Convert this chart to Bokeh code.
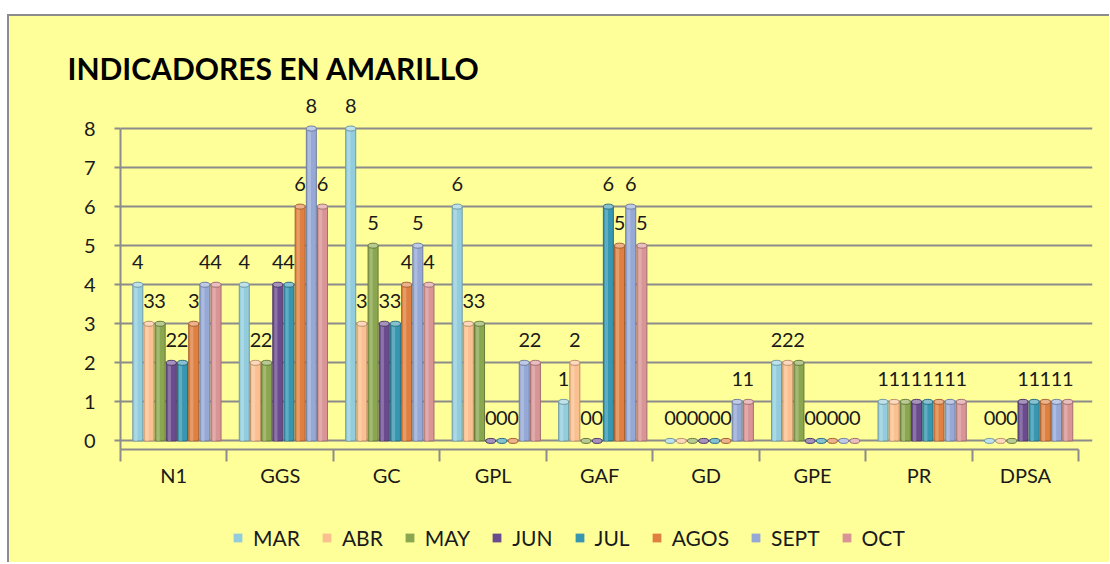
from bokeh.plotting import figure
from bokeh.models import Range1d, FixedTicker, Legend, LegendItem
from bokeh.layouts import column
from bokeh.core.properties import value
from bokeh.embed import file_html
from bokeh.resources import INLINE

categories = ["N1", "GGS", "GC", "GPL", "GAF", "GD", "GPE", "PR", "DPSA"]
series = ["MAR", "ABR", "MAY", "JUN", "JUL", "AGOS", "SEPT", "OCT"]
MAR = [4, 4, 8, 6, 1, 0, 2, 1, 0]
ABR = [3, 2, 3, 3, 2, 0, 2, 1, 0]
MAY = [3, 2, 5, 3, 0, 0, 2, 1, 0]
JUN = [2, 4, 3, 0, 0, 0, 0, 1, 1]
JUL = [2, 4, 3, 0, 6, 0, 0, 1, 1]
AGOS = [3, 6, 4, 0, 5, 0, 0, 1, 1]
SEPT = [4, 8, 5, 2, 6, 1, 0, 1, 1]
OCT = [4, 6, 4, 2, 5, 1, 0, 1, 1]
values = [MAR, ABR, MAY, JUN, JUL, AGOS, SEPT, OCT]
y_ticks = [0, 1, 2, 3, 4, 5, 6, 7, 8]
colors = ["#93CDDD", "#FAC090", "#8AA64E", "#6A4C8E", "#3796B0", "#DF8040", "#95A8D6", "#D99496"]

def mix(c, t, f):
    a = [int(c[i:i + 2], 16) for i in (1, 3, 5)]
    return "#%02x%02x%02x" % tuple(int(a[k] + (t[k] - a[k]) * f) for k in range(3))

YEL = "#FFFF99"
GREY = "#8c8c8c"
FONT = value("Lato")

p = figure(width=1100, height=500, output_backend="svg", toolbar_location=None,
           x_range=Range1d(0, 9.13), y_range=Range1d(-0.22, 9.0),
           min_border_left=111, min_border_right=17, min_border_top=73, min_border_bottom=67)
p.background_fill_color = YEL
p.border_fill_color = YEL
p.outline_line_color = None

p.title.text = "INDICADORES EN AMARILLO"
p.title.text_font = "Lato"
p.title.text_font_size = "30px"
p.title.text_font_style = "bold"
p.title.text_color = "#000000"
p.title.align = "left"
p.title.offset = -53
p.title.standoff = 7

p.xgrid.visible = False
p.ygrid.ticker = FixedTicker(ticks=y_ticks)
p.ygrid.grid_line_color = GREY
p.ygrid.grid_line_width = 2

p.yaxis.ticker = FixedTicker(ticks=y_ticks)
p.yaxis.bounds = (-0.22, 8)
p.yaxis.axis_line_color = GREY
p.yaxis.axis_line_width = 2
p.yaxis.major_tick_line_color = GREY
p.yaxis.major_tick_line_width = 2
p.yaxis.major_tick_out = 6
p.yaxis.major_tick_in = 0
p.yaxis.minor_tick_line_color = None
p.yaxis.major_label_text_font = "Lato"
p.yaxis.major_label_text_font_size = "20px"
p.yaxis.major_label_text_color = "#1a1a1a"
p.yaxis.major_label_standoff = 19

centers = [i + 0.5 for i in range(len(categories))]
p.xaxis.ticker = FixedTicker(ticks=centers, minor_ticks=list(range(len(categories) + 1)))
p.xaxis.major_label_overrides = {c: categories[i] for i, c in enumerate(centers)}
p.xaxis.bounds = (0, 9)
p.xaxis.axis_line_color = GREY
p.xaxis.axis_line_width = 2
p.xaxis.major_tick_line_color = None
p.xaxis.minor_tick_line_color = GREY
p.xaxis.minor_tick_line_width = 2
p.xaxis.minor_tick_out = 12
p.xaxis.minor_tick_in = 0
p.xaxis.major_label_text_font = "Lato"
p.xaxis.major_label_text_font_size = "20px"
p.xaxis.major_label_text_color = "#1a1a1a"
p.xaxis.major_label_standoff = 1

step = 0.105
bw = 0.094
for k, (name, vals, c) in enumerate(zip(series, values, colors)):
    xs = [i + 0.5 + (k - 3.5) * step + 0.03 for i in range(len(categories))]
    dark = mix(c, (0, 0, 0), 0.25)
    light = mix(c, (255, 255, 255), 0.4)
    p.vbar(x=xs, top=vals, bottom=0, width=bw, fill_color=c, line_color=dark, line_width=1)
    p.vbar(x=[x - 0.018 for x in xs], top=vals, bottom=0, width=0.03, fill_color=light,
           fill_alpha=0.55, line_color=None)
    p.ellipse(x=xs, y=vals, width=bw, height=5, height_units="screen",
              fill_color=light, line_color=dark, line_width=1)
    p.text(x=xs, y=vals, text=[str(v) for v in vals], text_align="center",
           text_baseline="bottom", y_offset=-16, text_font=FONT,
           text_font_size="20px", text_color="#1a1a1a")

# legend strip
lg = figure(width=1100, height=46, output_backend="svg", toolbar_location=None,
            x_range=Range1d(0, 1), y_range=Range1d(0, 1),
            min_border=0, min_border_left=0, min_border_right=0, min_border_top=0, min_border_bottom=0)
lg.background_fill_color = YEL
lg.border_fill_color = YEL
lg.outline_line_color = None
lg.axis.visible = False
lg.grid.visible = False
items = []
for name, c in zip(series, colors):
    r = lg.vbar(x=[0.5], top=[0.5], bottom=[0.5], width=0, fill_color=c, line_color=None)
    items.append(LegendItem(label=name, renderers=[r]))
legend = Legend(items=items, orientation="horizontal", location=(112, 12),
                label_text_font="Lato", label_text_font_size="21px", label_text_color="#1a1a1a",
                glyph_width=11, glyph_height=11, spacing=21, label_standoff=10,
                background_fill_alpha=0, border_line_color=None, margin=0, padding=0)
lg.add_layout(legend, "center")

layout = column(p, lg, spacing=0,
                styles={"margin-left": "7px", "margin-top": "14px",
                        "border-left": "2px solid #8c8c8c", "border-top": "2px solid #8c8c8c",
                        "background-color": YEL})

open("out.html", "w").write(file_html(layout, INLINE))
